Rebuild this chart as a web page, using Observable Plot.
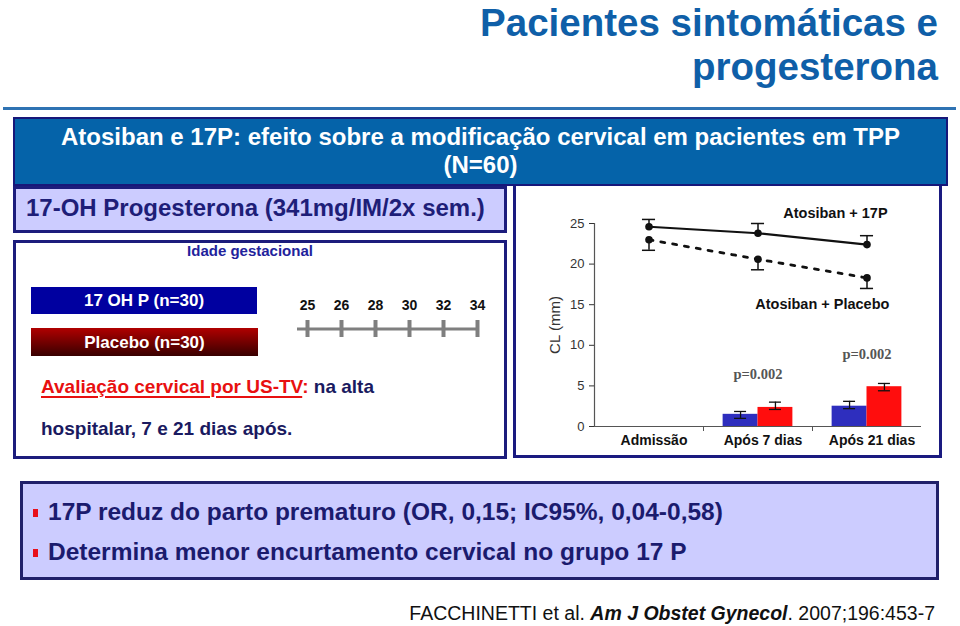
<!DOCTYPE html>
<html>
<head>
<meta charset="utf-8">
<script src="https://cdn.jsdelivr.net/npm/d3@7"></script>
<script src="https://cdn.jsdelivr.net/npm/@observablehq/plot@0.6"></script>
<style>
  html, body { margin: 0; padding: 0; background: #fff; }
  body { width: 960px; height: 626px; position: relative; overflow: hidden;
         font-family: "Liberation Sans", Arial, Helvetica, sans-serif; }
  .abs { position: absolute; white-space: nowrap; }
  .t { line-height: 1; }
  .title { right: 22px; text-align: right; color: #0f5fa8; font-weight: bold;
           font-size: 38.5px; line-height: 1.12; }
  #hr { left: 3px; top: 107px; width: 953px; height: 3px; background: #2f73b3; }
  #header { left: 13px; top: 117px; width: 935px; height: 69px; box-sizing: border-box;
            background: #0563a9; border: 2px solid #17177a; color: #fff; font-weight: bold;
            font-size: 24px; line-height: 28px; text-align: center; padding-top: 3.7px; z-index: 3; }
  #lav { left: 13px; top: 186px; width: 494px; height: 47px; box-sizing: border-box;
         background: #ccccff; border: 3px solid #1c1c7c; }
  #lavText { left: 26px; top: 195.7px; font-size: 24px; font-weight: bold; color: #1e1e78; }
  #leftBox { left: 13px; top: 240px; width: 494px; height: 219px; box-sizing: border-box;
             border: 3px solid #1c1c7c; background: #fff; }
  #chartBox { left: 513px; top: 180px; width: 429px; height: 278px; box-sizing: border-box;
              border: 3px solid #1a1a80; background: #fff; z-index: 1; }
  #idade { left: 150px; width: 200px; text-align: center; top: 243.3px; font-size: 15px;
           font-weight: bold; color: #22229c; }
  .grp { color: #fff; font-weight: bold; font-size: 17px; text-align: center; }
  #grp1 { left: 31px; top: 287px; width: 226px; height: 27px; line-height: 28px; background: #0000a0; }
  #grp2 { left: 31px; top: 328px; width: 227px; height: 28px; line-height: 29px;
          background: linear-gradient(#b00000, #380000); }
  #aval { left: 41px; top: 376.9px; font-size: 19px; font-weight: bold; color: #1a1a60; }
  #aval .red { color: #e81010; }
  #aval u { text-decoration-thickness: 2px; text-underline-offset: 3px; }
  #hosp { left: 41px; top: 418.9px; font-size: 19px; font-weight: bold; color: #1a1a60; }
  #bottomBox { left: 20px; top: 481px; width: 919px; height: 99px; box-sizing: border-box;
               background: #ccccff; border: 3px solid #20206a; }
  .bul { left: 48px; font-size: 24.5px; font-weight: bold; color: #1b1b6e; }
  .sq { left: 33px; width: 5px; height: 8px; background: #e8101a; }
  #cite { right: 25px; top: 603.5px; font-size: 19.5px; color: #111; }
  #chart { left: 515px; top: 186px; z-index: 2; }
  #timeline { left: 297px; top: 290px; }
  svg { overflow: visible; }
</style>
</head>
<body>
<script>
// ---------- data ----------
const titleLines = ["Pacientes sintomáticas e", "progesterona"];
const headerLines = ["Atosiban e 17P: efeito sobre a modificação cervical em pacientes em TPP", "(N=60)"];
const treatmentText = "17-OH Progesterona (341mg/IM/2x sem.)";
const groupLabels = ["17 OH P (n=30)", "Placebo (n=30)"];
const weekLabel = "Idade gestacional";
const weeks = ["25", "26", "28", "30", "32", "34"];
const bullets = ["17P  reduz do parto prematuro (OR, 0,15; IC95%, 0,04-0,58)",
                 "Determina menor encurtamento cervical no grupo 17 P"];

// chart data: cervical length (mm)
const categories = ["Admissão", "Após 7 dias", "Após 21 dias"];
const seriesNames = ["Atosiban + 17P", "Atosiban + Placebo"];
const cl17P = [24.6, 23.8, 22.4];
const cl17PErrTop = [25.5, 25.0, 23.5];
const clPlacebo = [23.0, 20.6, 18.3];
const clPlaceboErrBottom = [21.7, 19.3, 17.0];
// cervical shortening bars
const barCategories = ["Após 7 dias", "Após 21 dias"];
const short17P = [1.5, 2.5];
const short17PLo = [1.0, 2.2];
const short17PHi = [1.85, 3.1];
const shortPlacebo = [2.35, 4.9];
const shortPlaceboLo = [2.1, 4.4];
const shortPlaceboHi = [3.0, 5.3];
const pValues = ["p=0.002", "p=0.002"];
const pValueY = [6.4, 8.9];
const yTicks = [0, 5, 10, 15, 20, 25];
const yLabel = "CL (mm)";
const seriesLabelPos = [{x: 1.71, y: 26.2}, {x: 1.59, y: 15.0}];

// ---------- static slide layout ----------
function el(id, cls, html) {
  const d = document.createElement("div");
  if (id) d.id = id;
  d.className = "abs " + (cls || "");
  if (html != null) d.innerHTML = html;
  document.body.appendChild(d);
  return d;
}
titleLines.forEach((line, k) => {
  const d = el(null, "title", line);
  d.style.top = (1 + 44 * k) + "px";
});
el("hr", "");
el("chartBox", "");
el("header", "", headerLines.join("<br>"));
el("lav", "");
el("lavText", "t", treatmentText);
el("leftBox", "");
el("idade", "t", weekLabel);
el("grp1", "grp", groupLabels[0]);
el("grp2", "grp", groupLabels[1]);
el("aval", "t", '<span class="red"><u>Avaliação cervical por US-TV</u>:</span> na alta');
el("hosp", "t", "hospitalar, 7 e 21 dias após.");
el("bottomBox", "");
bullets.forEach((b, k) => {
  const s = el(null, "sq"); s.style.top = (509 + 40 * k) + "px";
  const t = el(null, "t bul", b); t.style.top = (500.3 + 40 * k) + "px";
});
el("cite", "t", 'FACCHINETTI et al. <b><i>Am J Obstet Gynecol</i></b>. 2007;196:453-7');

// ---------- timeline (gestational weeks) ----------
const tl = Plot.plot({
  width: 181, height: 50,
  marginLeft: 10, marginRight: 1, marginTop: 30, marginBottom: 3,
  x: {type: "point", domain: weeks, padding: 0, axis: null},
  y: {domain: [-1, 1], axis: null},
  style: {background: "transparent", fontFamily: "Liberation Sans, Arial, sans-serif", overflow: "visible"},
  marks: [
    Plot.ruleY([0], {stroke: "#7f7f7f", strokeWidth: 3, insetLeft: -10}),
    Plot.tickX(weeks, {x: d => d, stroke: "#7f7f7f", strokeWidth: 4}),
    Plot.text(weeks, {x: d => d, text: d => d, frameAnchor: "top", lineAnchor: "bottom", dy: -11,
                      fontSize: 14, fontWeight: "bold", fill: "#111"})
  ]
});
const tlWrap = el("timeline", ""); tlWrap.appendChild(tl);

// ---------- main chart ----------
const lineData = [];
categories.forEach((c, i) => {
  lineData.push({series: seriesNames[0], i, cl: cl17P[i], err: cl17PErrTop[i]});
  lineData.push({series: seriesNames[1], i, cl: clPlacebo[i], err: clPlaceboErrBottom[i]});
});
const barW = 0.32, capW = 0.055, lineCapW = 0.06;
const barData = [];
barCategories.forEach((c, k) => {
  const i = categories.indexOf(c);
  barData.push({group: seriesNames[0], x1: i - barW, x2: i, v: short17P[k], lo: short17PLo[k], hi: short17PHi[k], fill: "#2e2ebe"});
  barData.push({group: seriesNames[1], x1: i, x2: i + barW, v: shortPlacebo[k], lo: shortPlaceboLo[k], hi: shortPlaceboHi[k], fill: "#ff0d0d"});
});
const barCaps = barData.flatMap(d => [{y: d.lo, c: (d.x1 + d.x2) / 2}, {y: d.hi, c: (d.x1 + d.x2) / 2}]);
const pData = barCategories.map((c, k) => ({x: categories.indexOf(c), y: pValueY[k], text: pValues[k]}));
const seriesLabels = seriesNames.map((s, k) => ({text: s, ...seriesLabelPos[k]}));

const chart = Plot.plot({
  width: 426, height: 270,
  marginLeft: 79, marginRight: 20, marginTop: 37, marginBottom: 30,
  x: {type: "linear", domain: [-0.5, 2.5]},
  y: {domain: [0, 25]},
  style: {background: "transparent", fontFamily: "Liberation Sans, Arial, sans-serif", fontSize: "13px", overflow: "visible"},
  marks: [
    Plot.ruleX([-0.5], {stroke: "#555", strokeWidth: 1.2}),
    Plot.ruleY([0], {stroke: "#555", strokeWidth: 1.2}),
    Plot.axisY({ticks: yTicks, tickSize: 5, tickPadding: 5, fontSize: 13, color: "#333", label: null}),
    Plot.axisY({ticks: [], label: yLabel, labelAnchor: "center", labelArrow: "none", labelOffset: 45,
                fontSize: 15, color: "#333"}),
    Plot.axisX({ticks: [0.5, 1.5], tickSize: 5, tickFormat: () => "", label: null, color: "#555"}),
    Plot.axisX({ticks: [0, 1, 2], tickSize: 0, tickPadding: 9, dx: 5, tickFormat: i => categories[Math.round(i)],
                fontSize: 14, fontWeight: "bold", fill: "#111", label: null}),
    // cervical shortening bars
    Plot.rectY(barData, {x1: "x1", x2: "x2", y1: 0, y2: "v", fill: "fill"}),
    Plot.ruleX(barData, {x: d => (d.x1 + d.x2) / 2, y1: "lo", y2: "hi", stroke: "#111", strokeWidth: 1.3}),
    Plot.ruleY(barCaps, {y: "y", x1: d => d.c - capW, x2: d => d.c + capW, stroke: "#111", strokeWidth: 1.3}),
    // cervical length lines
    Plot.ruleX(lineData, {x: "i", y1: "cl", y2: "err", stroke: "#111", strokeWidth: 1.5}),
    Plot.ruleY(lineData, {y: "err", x1: d => d.i - lineCapW, x2: d => d.i + lineCapW, stroke: "#111", strokeWidth: 1.5}),
    Plot.line(lineData.filter(d => d.series === seriesNames[0]), {x: "i", y: "cl", stroke: "#111", strokeWidth: 2.2}),
    Plot.line(lineData.filter(d => d.series === seriesNames[1]), {x: "i", y: "cl", stroke: "#111", strokeWidth: 2.8, strokeDasharray: "4,8"}),
    Plot.dot(lineData, {x: "i", y: "cl", r: 3.8, fill: "#111"}),
    Plot.text(seriesLabels, {x: "x", y: "y", text: "text", fontSize: 14.5, fontWeight: "bold", fill: "#111"}),
    Plot.text(pData, {x: "x", y: "y", text: "text", fontSize: 14.5, fontWeight: "bold", fill: "#555",
                      fontFamily: "Liberation Serif, Times New Roman, serif"})
  ]
});
const chartWrap = el("chart", ""); chartWrap.appendChild(chart);
</script>
</body>
</html>
